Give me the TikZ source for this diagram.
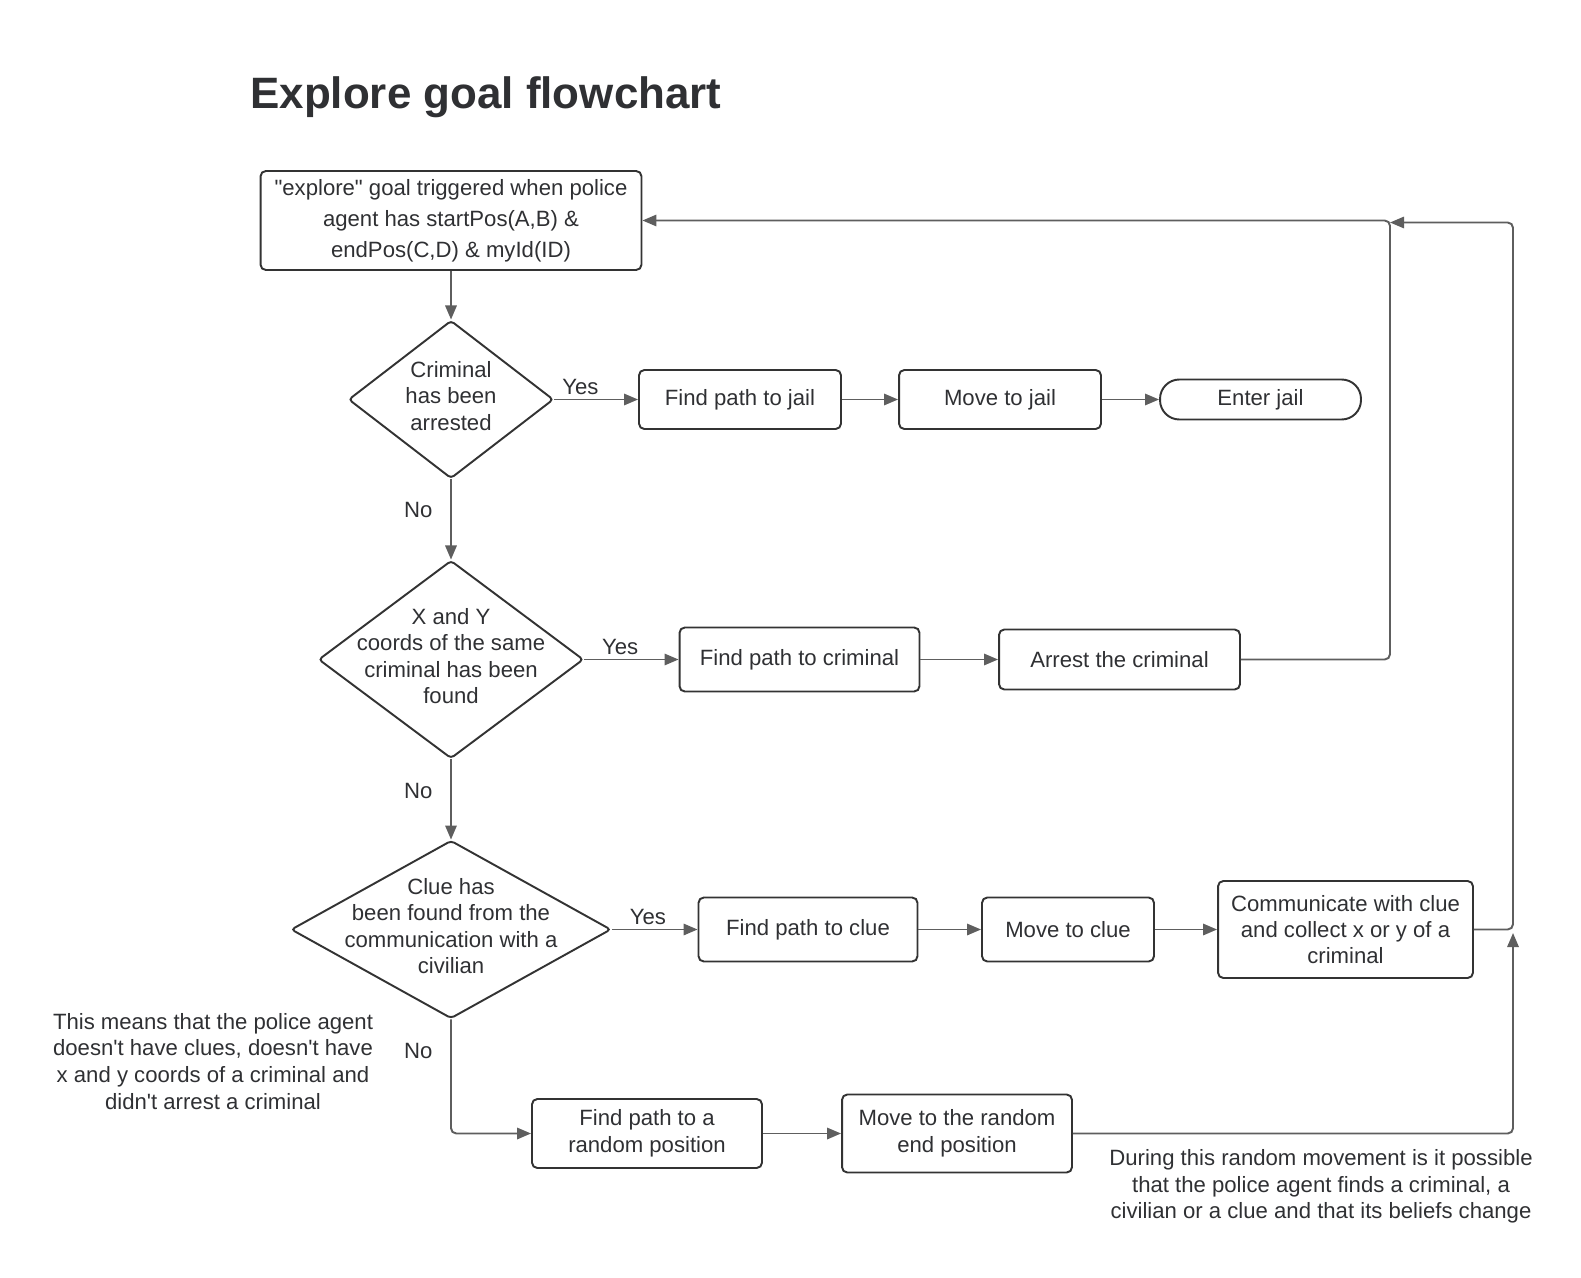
\documentclass[tikz,border=0pt]{standalone}
\usepackage{fontspec}
\setmainfont{Liberation Sans}
\usetikzlibrary{arrows.meta, positioning, calc, shapes.geometric}

\definecolor{inkgray}{HTML}{2F3033}
\definecolor{boxgray}{HTML}{333333}
\definecolor{linkgray}{HTML}{5E5E5E}

\begin{document}
\begin{tikzpicture}[
    x=0.02cm, y=-0.02cm, % one unit = one pixel of the sketch
    >={Triangle[length=8pt, width=6.5pt]}, % filled arrowheads
    every node/.style={text=inkgray, font=\fontsize{12.6}{15.1}\selectfont},
    stepbox/.style={draw=boxgray, line width=1.1pt, rounded corners=3pt, align=center, inner sep=2pt}, % process steps
    decision/.style={draw=boxgray, line width=1.1pt, diamond, inner sep=0pt, rounded corners=2pt}, % the questions
    decision text/.style={align=center, inner sep=0pt, yshift=0.07cm},
    flow/.style={->, draw=linkgray, line width=1.1pt, rounded corners=3pt}, % connectors
    answer/.style={inner sep=2pt}, % Yes / No
    note/.style={align=center, inner sep=0pt}
]
    \useasboundingbox (0,0) rectangle (1581,1277);

    % === Title ===
    \node[anchor=base west, inner sep=0pt, font=\bfseries\fontsize{25}{30}\selectfont] (title) at (250,109) {Explore goal flowchart};

    % === Start ===
    \node[stepbox, minimum width=7.62cm, minimum height=1.98cm, font=\fontsize{12.6}{17.6}\selectfont] (start_node) at (451,220.5)
        {\textquotedbl explore\textquotedbl{} goal triggered when police\\agent has startPos(A,B) \&\\endPos(C,D) \& myId(ID)};

    % ====== ROW 1: CRIMINAL ARRESTED ======
    \node[decision, minimum width=4.1cm, minimum height=3.16cm,
          label={[decision text]center:{Criminal\\has been\\arrested}}] (dec_arrested) at (451,399.5) {};
    \node[stepbox, minimum width=4.04cm, minimum height=1.18cm] (path_jail) at (740,399.5) {Find path to jail};
    \node[stepbox, minimum width=4.04cm, minimum height=1.18cm] (move_jail) at (1000,399.5) {Move to jail};
    \node[stepbox, minimum width=4.02cm, minimum height=0.8cm, rounded corners=11pt] (enter_jail) at (1260.5,399.5) {Enter jail};

    % ====== ROW 2: COORDS FOUND ======
    \node[decision, minimum width=5.3cm, minimum height=3.96cm,
          label={[decision text]center:{X and Y\\coords of the same\\criminal has been\\found}}] (dec_coords) at (451,659.5) {};
    \node[stepbox, minimum width=4.8cm, minimum height=1.28cm] (path_criminal) at (799.5,659.5) {Find path to criminal};
    \node[stepbox, minimum width=4.82cm, minimum height=1.2cm] (arrest_criminal) at (1119.5,659.5) {Arrest the criminal};

    % ====== ROW 3: CLUE FOUND ======
    \node[decision, minimum width=6.4cm, minimum height=3.56cm,
          label={[decision text]center:{Clue has\\been found from the\\communication with a\\civilian}}] (dec_clue) at (451,929.5) {};
    \node[stepbox, minimum width=4.38cm, minimum height=1.28cm] (path_clue) at (808,929.5) {Find path to clue};
    \node[stepbox, minimum width=3.44cm, minimum height=1.28cm] (move_clue) at (1068,929.5) {Move to clue};
    \node[stepbox, minimum width=5.1cm, minimum height=1.94cm, font=\fontsize{12.6}{14.9}\selectfont] (communicate) at (1345.5,929.5)
        {Communicate with clue\\and collect x or y of a\\criminal};

    % ====== ROW 4: RANDOM MOVE ======
    \node[stepbox, minimum width=4.6cm, minimum height=1.38cm] (path_random) at (647,1133.5) {Find path to a\\random position};
    \node[stepbox, minimum width=4.6cm, minimum height=1.56cm] (move_random) at (957,1133.5) {Move to the random\\end position};

    % Notes
    \node[note] (note_left) at (213,1061.3) {This means that the police agent\\doesn\textquotesingle t have clues, doesn\textquotesingle t have\\x and y coords of a criminal and\\didn\textquotesingle t arrest a criminal};
    \node[note] (note_right) at (1321,1186.6) {During this random movement is it possible\\that the police agent finds a criminal, a\\civilian or a clue and that its beliefs change};

    % === Loop-back points ===
    \coordinate (back_arrest) at (1390,220.5);
    \coordinate (back_outer) at (1513,222.5);
    \coordinate (back_merge) at (1390,222.5);
    \coordinate (back_rise) at (1513,933);

    % ====== CONNECTORS ======
    \draw[flow] (start_node) -- (dec_arrested);
    \draw[flow] (dec_arrested) -- node[answer, above, pos=0.31] {Yes} (path_jail);
    \draw[flow] (path_jail) -- (move_jail);
    \draw[flow] (move_jail) -- (enter_jail);
    \draw[flow] (dec_arrested) -- node[answer, left=0.28cm, pos=0.38] {No} (dec_coords);

    \draw[flow] (dec_coords) -- node[answer, above, pos=0.38] {Yes} (path_criminal);
    \draw[flow] (path_criminal) -- (arrest_criminal);
    \draw[flow] (arrest_criminal.east) -| (back_arrest) -- (start_node.east);
    \draw[flow] (dec_coords) -- node[answer, left=0.28cm, pos=0.39] {No} (dec_clue);

    \draw[flow] (dec_clue) -- node[answer, above, pos=0.42] {Yes} (path_clue);
    \draw[flow] (path_clue) -- (move_clue);
    \draw[flow] (move_clue) -- (communicate);
    \draw[flow] (communicate.east) -| (back_outer) -- (back_merge);
    \draw[flow] (dec_clue.south) |- node[answer, left=0.28cm, pos=0.139] {No} (path_random.west);

    \draw[flow] (path_random) -- (move_random);
    \draw[flow] (move_random.east) -| (back_rise);

\end{tikzpicture}
\end{document}
